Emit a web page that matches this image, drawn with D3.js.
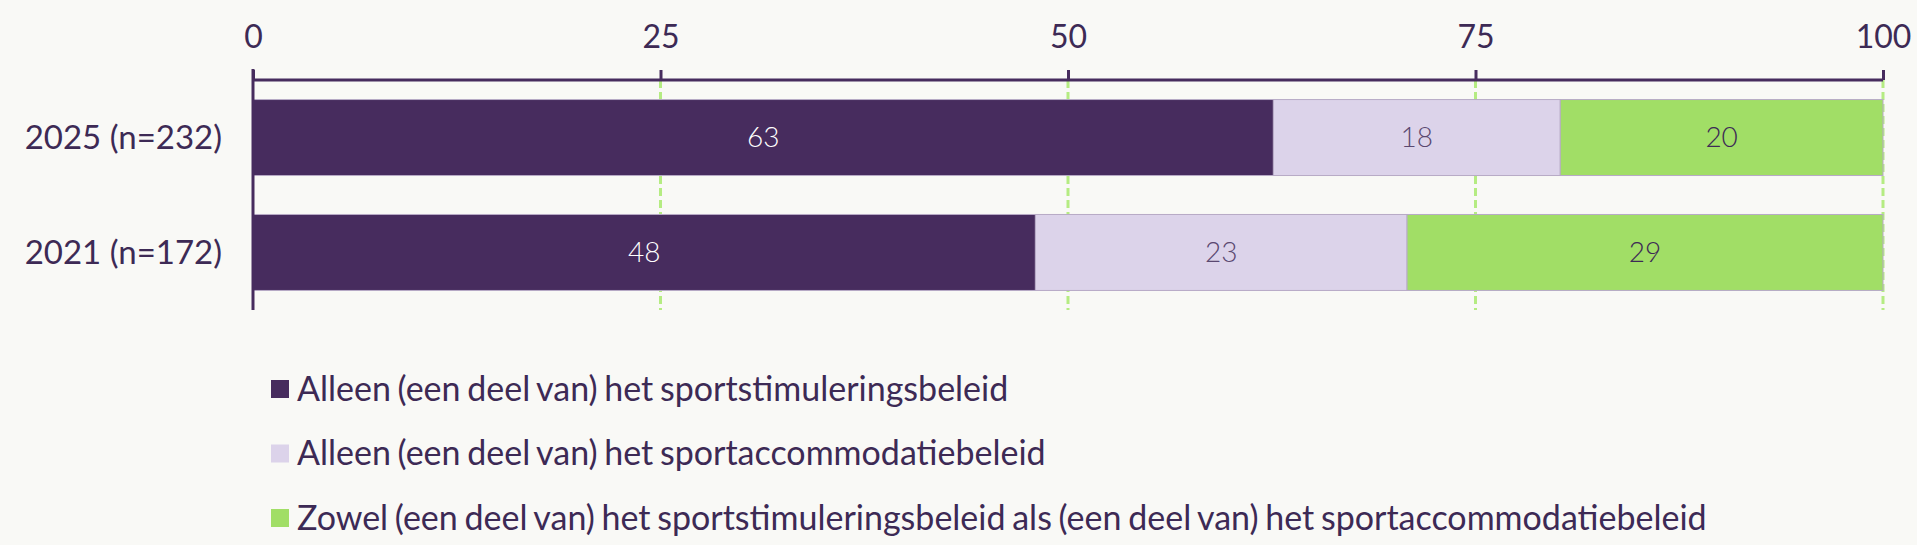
<!DOCTYPE html>
<html>
<head>
<meta charset="utf-8">
<script src="https://cdn.jsdelivr.net/npm/d3@7"></script>
<style>
  body { margin: 0; background: #f9f9f6; }
  text { font-family: Lato, "Noto Sans", sans-serif; }
</style>
</head>
<body>
<div id="container"></div>
<script>
// data (unrounded shares, labels are rounded)
const categories = ["2025 (n=232)", "2021 (n=172)"];
const seriesNames = [
  "Alleen (een deel van) het sportstimuleringsbeleid",
  "Alleen (een deel van) het sportaccommodatiebeleid",
  "Zowel (een deel van) het sportstimuleringsbeleid als (een deel van) het sportaccommodatiebeleid"
];
const stimulering = [62.6, 48.0];
const accommodatie = [17.6, 22.8];
const beide = [19.8, 29.2];
const ticks = [0, 25, 50, 75, 100];

const colors = ["#472c5e", "#dcd3ea", "#a1de66"];
const labelColors = ["#ffffff", "#5a4870", "#3d2a55"];

let w = 1917;
let h = 545;

let viz = d3.select("#container").append("svg")
    .attr("width", w)
    .attr("height", h)
    .style("background-color", "#f9f9f6");

let x = d3.scaleLinear().domain([0, 100]).range([253, 1883]);
let y = d3.scaleBand().domain(categories).range([80, 310]).paddingInner(0.339).paddingOuter(0.17);

// stacked rows
let rows = categories.map((c, i) => ({ cat: c, v: [stimulering[i], accommodatie[i], beide[i]] }));
let stack = d3.stack().keys([0, 1, 2]).value((d, k) => d.v[k]);
let layers = stack(rows);

// dashed gridlines (behind the bars)
viz.selectAll(".grid").data(ticks.slice(1)).enter()
  .append("line")
    .attr("x1", d => x(d)).attr("x2", d => x(d))
    .attr("y1", 80).attr("y2", 310)
    .attr("stroke", "#b5ec82")
    .attr("stroke-width", 3)
    .attr("stroke-dasharray", "8,4");

// bars
layers.forEach((layer, k) => {
  viz.selectAll(".bar" + k).data(layer).enter()
    .append("rect")
      .attr("x", d => x(d[0]))
      .attr("y", d => y(d.data.cat))
      .attr("width", d => x(d[1]) - x(d[0]))
      .attr("height", y.bandwidth())
      .attr("fill", colors[k])
      .attr("stroke", "#b7aac6")
      .attr("stroke-width", 1);

  viz.selectAll(".lab" + k).data(layer).enter()
    .append("text")
      .attr("x", d => (x(d[0]) + x(d[1])) / 2)
      .attr("y", d => y(d.data.cat) + y.bandwidth() / 2)
      .attr("dy", "0.35em")
      .attr("text-anchor", "middle")
      .attr("font-size", 28)
      .attr("font-weight", 300)
      .attr("fill", labelColors[k])
      .text(d => Math.round(d.data.v[k]));
});

// top axis
let xAxis = d3.axisTop(x).tickValues(ticks).tickSize(10).tickPadding(22);
let ax = viz.append("g").attr("transform", "translate(0,80)").call(xAxis);
ax.select(".domain").attr("stroke", "#472c5e").attr("stroke-width", 3).attr("d", "M253,0H1883");
ax.selectAll(".tick line").attr("stroke", "#472c5e").attr("stroke-width", 3);
ax.selectAll(".tick text")
  .attr("font-size", 32)
  .attr("fill", "#3d2a55")
  .style("font-family", "Lato, 'Noto Sans', sans-serif");

// left axis line
viz.append("line")
  .attr("x1", 253).attr("x2", 253)
  .attr("y1", 69).attr("y2", 310)
  .attr("stroke", "#472c5e")
  .attr("stroke-width", 3);

// category labels
viz.selectAll(".cat").data(categories).enter()
  .append("text")
    .attr("x", 222)
    .attr("y", d => y(d) + y.bandwidth() / 2)
    .attr("dy", "0.35em")
    .attr("text-anchor", "end")
    .attr("font-size", 33)
    .attr("fill", "#3d2a55")
    .text(d => d);

// legend
let legend = viz.selectAll(".legend").data(seriesNames).enter()
  .append("g")
    .attr("transform", (d, i) => "translate(271," + (389 + i * 64.5) + ")");

legend.append("rect")
  .attr("x", 0).attr("y", -9)
  .attr("width", 18).attr("height", 18)
  .attr("fill", (d, i) => colors[i]);

legend.append("text")
  .attr("x", 26)
  .attr("dy", "0.35em")
  .attr("font-size", 34)
  .attr("word-spacing", -2)
  .attr("fill", "#3d2a55")
  .text(d => d);
</script>
</body>
</html>
